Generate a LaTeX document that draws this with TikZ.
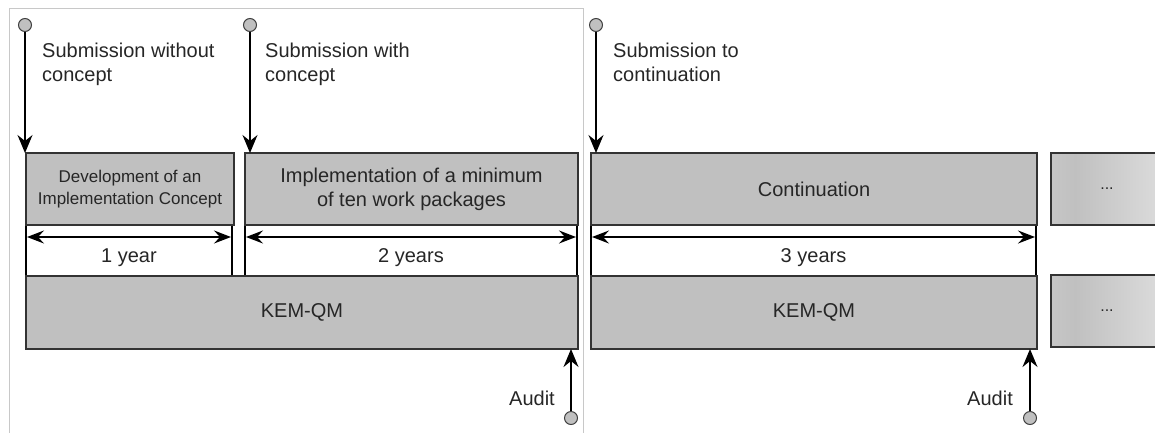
\documentclass[tikz,border=0pt]{standalone}
\usepackage{fontspec}
\setmainfont{Liberation Sans}
\usetikzlibrary{arrows.meta}
\definecolor{boxgray}{HTML}{C0C0C0}
\definecolor{framegray}{HTML}{C8C8C8}
\definecolor{txt}{HTML}{262626}
\definecolor{ellA}{HTML}{D6D6D6}
\definecolor{ellB}{HTML}{C0C0C0}
\definecolor{ellC}{HTML}{F2F2F2}
\pgfdeclarehorizontalshading{ellgrad}{100bp}{color(0bp)=(ellA); color(35bp)=(ellB); color(100bp)=(ellC)}
\begin{document}
\begin{tikzpicture}[x=1pt,y=-1pt,
  box/.style={draw=black!80, line width=1.2pt, fill=boxgray, anchor=north west, inner sep=0pt, outer sep=0pt, align=center, text=txt},
  durbox/.style={draw=black, line width=2pt, fill=white, anchor=north west, inner sep=0pt, outer sep=0pt},
  ellbox/.style={draw=black!80, line width=1.2pt, shading=ellgrad, anchor=north west, inner sep=0pt, outer sep=0pt},
  pin/.style={circle, draw=black!75, fill=boxgray, line width=1pt, minimum size=13pt, inner sep=0pt},
  arr/.style={-{Stealth[length=18pt,width=15pt,inset=6pt]}, line width=1.6pt},
  dbl/.style={{Stealth[length=17pt,width=13pt,inset=6pt]}-{Stealth[length=17pt,width=13pt,inset=6pt]}, line width=1.6pt},
  lbl/.style={font=\fontsize{20}{24}\selectfont, text=txt, inner sep=0pt, align=left, anchor=north west},
  big/.style={font=\fontsize{20}{24}\selectfont},
  small/.style={font=\fontsize{17}{21.5}\selectfont},
  dtext/.style={font=\fontsize{20}{24}\selectfont, text=txt, inner sep=0pt},
]
\useasboundingbox (0,0) rectangle (1155,432);
\draw[framegray, line width=1pt] (9,440) -- (9,8) -- (583,8) -- (583,440);

% duration boxes
\node[durbox, minimum width=206pt, minimum height=51pt] (dur1) at (26,225) {};
\node[durbox, minimum width=332pt, minimum height=51pt] (dur2) at (245,225) {};
\node[durbox, minimum width=445pt, minimum height=51pt] (dur3) at (591,225) {};

% phase boxes
\node[box, small, minimum width=208pt, minimum height=72pt] (dev) at (26,153) {Development of an\\Implementation Concept};
\node[box, big, minimum width=333pt, minimum height=72pt] (impl) at (245,153) {Implementation of a minimum\\of ten work packages};
\node[box, big, minimum width=446pt, minimum height=72pt] (cont) at (591,153) {Continuation};
\node[box, big, minimum width=552pt, minimum height=73pt] (kem1) at (26,276) {KEM-QM};
\node[box, big, minimum width=446pt, minimum height=73pt] (kem2) at (591,276) {KEM-QM};
\node[ellbox, minimum width=120pt, minimum height=72pt] (ell1) at (1051,153) {};
\node[ellbox, minimum width=120pt, minimum height=72pt] (ell2) at (1051,275) {};
\node[text=txt, font=\fontsize{16}{18}\selectfont] (e1) at (1107,189) {...};
\node[text=txt, font=\fontsize{16}{18}\selectfont] (e2) at (1107,311) {...};

% durations
\draw[dbl] ([shift={(1,12)}]dur1.north west) -- ([shift={(-1,12)}]dur1.north east);
\draw[dbl] ([shift={(1,12)}]dur2.north west) -- ([shift={(-1,12)}]dur2.north east);
\draw[dbl] ([shift={(1,12)}]dur3.north west) -- ([shift={(-1,12)}]dur3.north east);
\node[dtext] (t1) at ([yshift=-7.5pt]dur1.center) {1 year};
\node[dtext] (t2) at ([yshift=-7.5pt]dur2.center) {2 years};
\node[dtext] (t3) at ([yshift=-7.5pt]dur3.center) {3 years};

% submissions
\node[pin] (p1) at (25,25) {};
\node[pin] (p2) at (250,25) {};
\node[pin] (p3) at (596,25) {};
\draw[arr] (p1) -- (p1 |- dev.north);
\draw[arr] (p2) -- (p2 |- impl.north);
\draw[arr] (p3) -- (p3 |- cont.north);
\node[lbl] (s1) at (42,43) {Submission without\\concept};
\node[lbl] (s2) at (265,43) {Submission with\\concept};
\node[lbl] (s3) at (613,43) {Submission to\\continuation};

% audits
\node[pin] (q1) at (571,418) {};
\node[pin] (q2) at (1030,418) {};
\draw[arr] (q1) -- (q1 |- kem1.south);
\draw[arr] (q2) -- (q2 |- kem2.south);
\node[lbl, anchor=east] (a1) at (555,398) {Audit};
\node[lbl, anchor=east] (a2) at (1013,398) {Audit};
\end{tikzpicture}
\end{document}
